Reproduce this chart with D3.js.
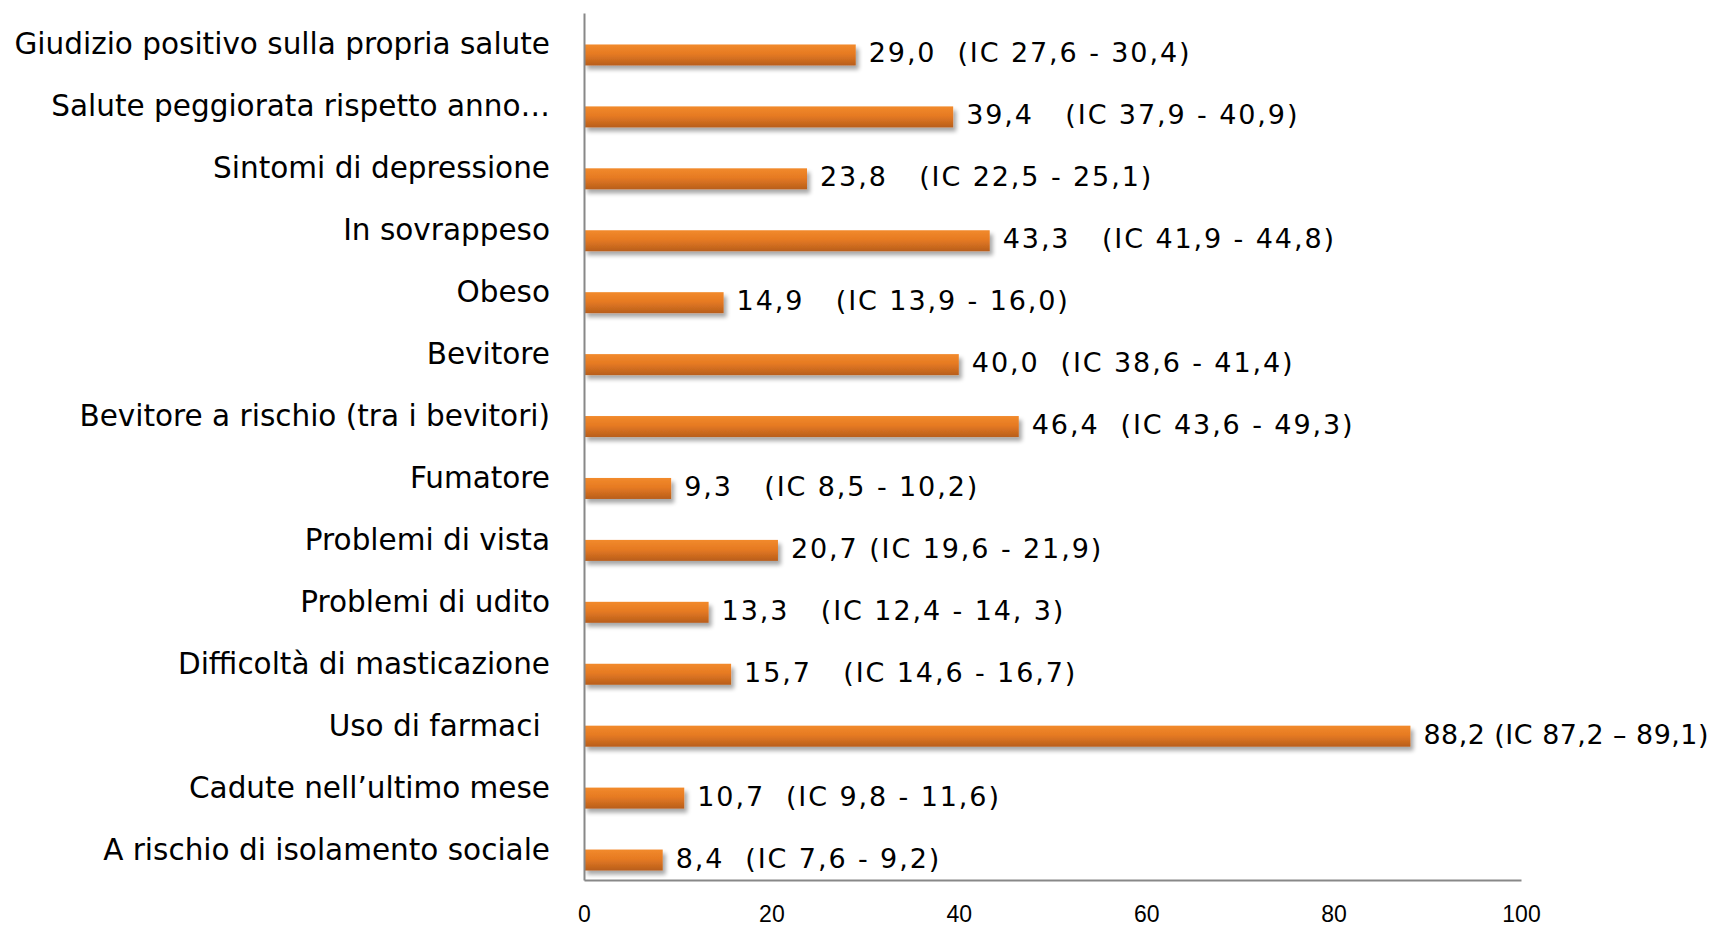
<!DOCTYPE html>
<html>
<head>
<meta charset="utf-8">
<script src="https://cdn.jsdelivr.net/npm/d3@7"></script>
<style>
  html, body { margin: 0; padding: 0; background: #fff; }
  svg { display: block; }
  .cat, .val { font-family: "DejaVu Sans", "Open Sans", sans-serif; fill: #000; }
  .tick text { font-family: "Liberation Sans Narrow", "Liberation Sans", sans-serif; }
</style>
</head>
<body>
<svg id="chart" width="1717" height="926"></svg>
<script>
const categories = [
  "Giudizio positivo sulla propria salute",
  "Salute peggiorata rispetto anno\u2026",
  "Sintomi di depressione",
  "In sovrappeso",
  "Obeso",
  "Bevitore",
  "Bevitore a rischio (tra i bevitori)",
  "Fumatore",
  "Problemi di vista",
  "Problemi di udito",
  "Difficolt\u00e0 di masticazione",
  "Uso di farmaci ",
  "Cadute nell\u2019ultimo mese",
  "A rischio di isolamento sociale"
];
const values = [29.0, 39.4, 23.8, 43.3, 14.9, 40.0, 46.4, 9.3, 20.7, 13.3, 15.7, 88.2, 10.7, 8.4];
const valueLabels = [
  "29,0  (IC 27,6 - 30,4)",
  "39,4   (IC 37,9 - 40,9)",
  "23,8   (IC 22,5 - 25,1)",
  "43,3   (IC 41,9 - 44,8)",
  "14,9   (IC 13,9 - 16,0)",
  "40,0  (IC 38,6 - 41,4)",
  "46,4  (IC 43,6 - 49,3)",
  "9,3   (IC 8,5 - 10,2)",
  "20,7 (IC 19,6 - 21,9)",
  "13,3   (IC 12,4 - 14, 3)",
  "15,7   (IC 14,6 - 16,7)",
  "88,2 (IC 87,2 \u2013 89,1)",
  "10,7  (IC 9,8 - 11,6)",
  "8,4  (IC 7,6 - 9,2)"
];
const xTicks = [0, 20, 40, 60, 80, 100];

const W = 1717;
const svg = d3.select("#chart");
const mLeft = 584, mRight = 1521, mTop = 13, mBottom = 880;

const x = d3.scaleLinear().domain([0, 100]).range([mLeft, mRight]);
const y = d3.scaleBand().domain(categories).range([mTop, mBottom]).paddingInner(0).paddingOuter(0);

const defs = svg.append("defs");
const grad = defs.append("linearGradient").attr("id", "barGrad")
  .attr("x1", 0).attr("y1", 0).attr("x2", 0).attr("y2", 1);
grad.append("stop").attr("offset", "0%").attr("stop-color", "#F28A2C");
grad.append("stop").attr("offset", "45%").attr("stop-color", "#E67A22");
grad.append("stop").attr("offset", "100%").attr("stop-color", "#B85E1D");

const f = defs.append("filter").attr("id", "shadow")
  .attr("x", "-5%").attr("y", "-30%").attr("width", "115%").attr("height", "180%");
f.append("feGaussianBlur").attr("in", "SourceAlpha").attr("stdDeviation", 2.2).attr("result", "b");
f.append("feOffset").attr("in", "b").attr("dx", 3).attr("dy", 4).attr("result", "o");
f.append("feComponentTransfer").attr("in", "o").attr("result", "s")
  .append("feFuncA").attr("type", "linear").attr("slope", 0.35);
const mg = f.append("feMerge");
mg.append("feMergeNode").attr("in", "s");
mg.append("feMergeNode").attr("in", "SourceGraphic");

const barH = 21;
const barOffset = 11;

// bars
svg.append("g").selectAll("rect").data(values).join("rect")
  .attr("x", x(0))
  .attr("y", (d, i) => y(categories[i]) + y.bandwidth() / 2 + barOffset - barH / 2)
  .attr("width", d => x(d) - x(0))
  .attr("height", barH)
  .attr("fill", "url(#barGrad)")
  .attr("filter", "url(#shadow)");

// value labels
const vals = svg.append("g").selectAll("text").data(values).join("text")
  .attr("class", "val")
  .attr("xml:space", "preserve")
  .style("white-space", "pre")
  .attr("x", d => x(d) + 13)
  .attr("y", (d, i) => y(categories[i]) + y.bandwidth() / 2 + barOffset)
  .attr("dominant-baseline", "middle")
  .attr("font-size", 27)
  .attr("letter-spacing", 1.9)
  .text((d, i) => valueLabels[i]);
// keep labels inside the picture
vals.each(function(d) {
  const x0 = x(d) + 13;
  const w = this.getComputedTextLength();
  const maxW = W - 8 - x0;
  if (w > maxW) {
    d3.select(this).attr("letter-spacing", 0.5);
    const w2 = this.getComputedTextLength();
    if (w2 > maxW) d3.select(this).attr("textLength", maxW).attr("lengthAdjust", "spacingAndGlyphs");
  }
});

// category labels
svg.append("g").selectAll("text").data(categories).join("text")
  .attr("class", "cat")
  .attr("xml:space", "preserve")
  .style("white-space", "pre")
  .attr("x", mLeft - 34)
  .attr("y", d => y(d) + y.bandwidth() / 2 + 2)
  .attr("dominant-baseline", "middle")
  .attr("text-anchor", "end")
  .attr("font-size", 29.5)
  .text(d => d);

// x axis
const xAxis = svg.append("g").attr("transform", `translate(0,${mBottom})`)
  .call(d3.axisBottom(x).tickValues(xTicks).tickSize(0).tickPadding(26).tickFormat(d3.format("d")));
xAxis.select(".domain").attr("stroke", "#888").attr("stroke-width", 2);
xAxis.selectAll(".tick text").attr("font-size", 23).attr("fill", "#000");

// y axis line
svg.append("g").attr("transform", `translate(${mLeft},0)`)
  .call(d3.axisLeft(y).tickSize(0).tickFormat(""))
  .select(".domain").attr("stroke", "#888").attr("stroke-width", 2);
</script>
</body>
</html>
